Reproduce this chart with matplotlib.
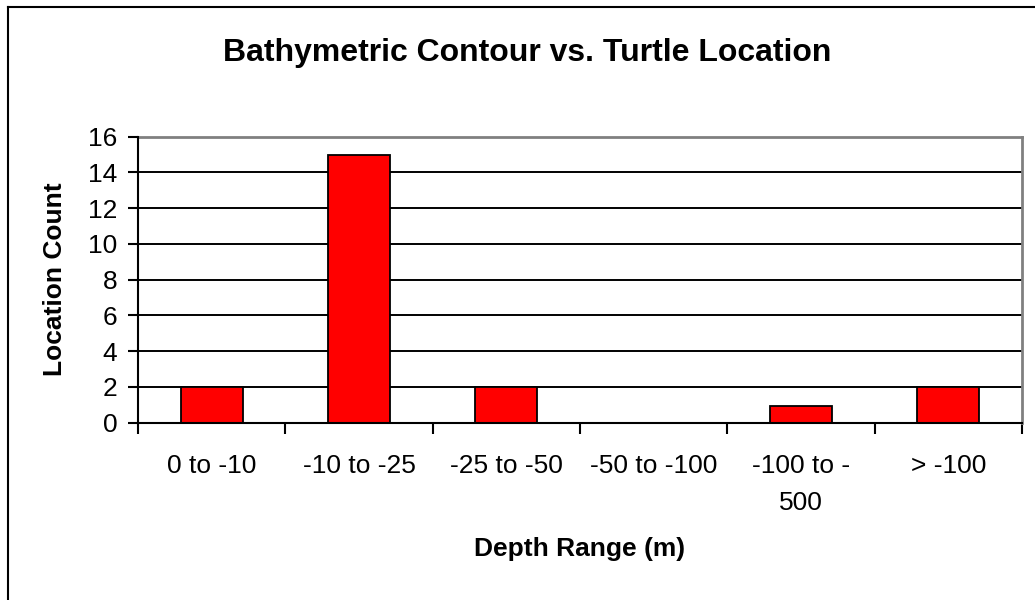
import matplotlib.pyplot as plt
from matplotlib.lines import Line2D

plt.rcParams['font.family'] = ['Liberation Sans', 'DejaVu Sans']

depth_ranges = ["0 to -10", "-10 to -25", "-25 to -50", "-50 to -100", "-100 to -\n500", "> -100"]
location_counts = [2, 15, 2, 0, 0.9, 2]

fig = plt.figure(figsize=(10.35, 6), dpi=100)
ax = fig.add_axes([138 / 1035, 1 - 422.5 / 600, 884 / 1035, 285.8 / 600])

x = list(range(len(depth_ranges)))
ax.bar(x, location_counts, width=0.42, color='#ff0000', edgecolor='black', linewidth=1.3, zorder=3)

ax.set_xlim(-0.5, len(depth_ranges) - 0.5)
ax.set_ylim(0, 16)
ax.set_yticks(range(0, 17, 2))
ax.yaxis.grid(True, color='black', linewidth=1.4, zorder=0)

# category boundaries carry the ticks, labels sit in the middle
ax.set_xticks([i - 0.5 for i in range(len(depth_ranges) + 1)])
ax.set_xticklabels([])
ax.set_xticks(x, minor=True)
ax.set_xticklabels(depth_ranges, minor=True, fontsize=19, linespacing=1.65)
ax.tick_params(axis='x', which='minor', length=0, pad=23)
ax.tick_params(axis='x', which='major', length=8, width=1.5, direction='out')
ax.tick_params(axis='y', length=7, width=1.5, direction='out', labelsize=19, pad=8)
for lbl in ax.get_xticklabels(minor=True):
    lbl.set_verticalalignment('top')

for side in ['left', 'bottom']:
    ax.spines[side].set_linewidth(1.5)
    ax.spines[side].set_zorder(4)
for side in ['top', 'right']:
    ax.spines[side].set_color('#808080')
    ax.spines[side].set_linewidth(2)

ax.set_ylabel("Location Count", fontsize=19, fontweight='bold', va='center')
ax.yaxis.set_label_coords(-0.094, 0.5)
ax.set_xlabel("Depth Range (m)", fontsize=19, fontweight='bold', va='center')
ax.xaxis.set_label_coords(0.5, -0.443)
fig.text(527 / 1035, 1 - 53 / 600, "Bathymetric Contour vs. Turtle Location",
         ha='center', va='center', fontsize=23, fontweight='bold')

# outer chart frame
fig.add_artist(Line2D([7.5 / 1035, 7.5 / 1035], [0, 1 - 6.5 / 600], transform=fig.transFigure, color='black', linewidth=1.5))
fig.add_artist(Line2D([7.5 / 1035, 1], [1 - 6.5 / 600, 1 - 6.5 / 600], transform=fig.transFigure, color='black', linewidth=1.5))

fig.savefig("out.png", dpi=100)
